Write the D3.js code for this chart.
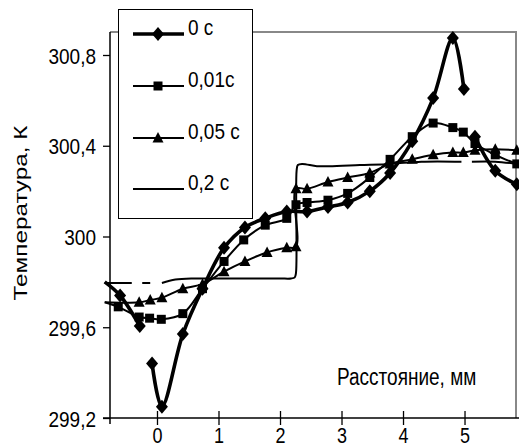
<!DOCTYPE html>
<html><head><meta charset="utf-8">
<script src="https://cdn.jsdelivr.net/npm/d3@7"></script>
<style>body{margin:0;background:#fff}svg{display:block}text{font-family:"Liberation Sans",Arial,sans-serif;fill:#000}</style>
</head><body>
<script>
// ---- data ----
const seriesNames = ["0 c", "0,01c", "0,05 c", "0,2 c"];
const dist0 = [-0.85,-0.60,-0.28,null,-0.08,0.08,0.42,0.74,1.09,1.43,1.76,2.11,2.44,2.78,3.10,3.46,3.79,4.15,4.49,4.81,4.99,null,5.17,5.50,5.85];
const temp0 = [299.80,299.74,299.605,null,299.44,299.25,299.57,299.77,299.95,300.04,300.08,300.11,300.11,300.13,300.15,300.20,300.28,300.42,300.61,300.875,300.65,null,300.44,300.29,300.23];
const dist01 = [-0.85,-0.63,-0.29,-0.12,0.07,0.42,0.74,1.09,1.41,1.76,2.11,2.26,2.44,2.78,3.10,3.46,3.79,4.15,4.49,4.81,4.98,5.17,5.50,5.85];
const temp01 = [299.71,299.69,299.645,299.64,299.635,299.66,299.77,299.89,299.985,300.05,300.08,300.14,300.15,300.16,300.19,300.26,300.34,300.44,300.50,300.48,300.46,300.41,300.36,300.32];
const dist05 = [-0.85,-0.29,-0.11,0.08,0.42,0.74,1.09,1.43,1.79,2.11,2.26,2.26,2.44,2.78,3.10,3.46,3.79,4.15,4.49,4.81,4.98,5.17,5.50,5.85];
const temp05 = [299.71,299.71,299.72,299.73,299.77,299.79,299.845,299.89,299.93,299.95,299.955,300.21,300.21,300.24,300.26,300.28,300.32,300.34,300.36,300.37,300.37,300.38,300.385,300.38];
const dist2 = [-0.85,-0.41,null,-0.24,-0.11,null,0.08,0.30,0.60,1.00,1.50,2.00,2.18,2.24,2.26,2.27,2.29,2.36,2.60,2.80,3.30,3.80,4.30,4.95,null,5.12,5.50,5.85];
const temp2 = [299.795,299.795,null,299.795,299.795,null,299.795,299.81,299.815,299.815,299.815,299.815,299.815,299.82,299.84,300.29,300.315,300.32,300.31,300.31,300.315,300.32,300.33,300.33,null,300.33,300.33,300.32];
const yTicks = [299.2, 299.6, 300, 300.4, 300.8];
const xTicks = [0, 1, 2, 3, 4, 5];
const xTitle = "Расстояние, мм";
const yTitle = "Температура, К";

// ---- setup ----
const W = 519, H = 448;
const svg = d3.select("body").append("svg").attr("width", W).attr("height", H);
const x = d3.scaleLinear().domain([-0.764, 5.837]).range([110, 516]);
const y = d3.scaleLinear().domain([299.2, 300.8]).range([418, 55]);
const pL = 110, pR = 516, pT = 32, pB = 418;
const SY = 1.18;

// frame
svg.append("path").attr("d", `M${pL},${pT}H${pR}V${pB}`)
  .attr("fill", "none").attr("stroke", "#888").attr("stroke-width", 2);

const fmt = v => String(Math.round(v * 10) / 10).replace(".", ",");

// y axis
const ya = svg.append("g").attr("transform", `translate(${pL},0)`)
  .call(d3.axisLeft(y).tickValues(yTicks).tickSize(7).tickFormat(fmt).tickSizeOuter(0));
ya.select(".domain").remove();
ya.selectAll(".tick line").attr("stroke", "#000").attr("stroke-width", 1.3);
ya.selectAll(".tick text").attr("x", null).attr("dy", null).attr("y", null)
  .style("font-size", "19px").attr("fill", "#000").attr("text-anchor", "end")
  .attr("transform", `translate(-14,0) scale(1,${SY})`).attr("dominant-baseline", "central");
svg.append("line").attr("x1", pL).attr("x2", pL).attr("y1", pT).attr("y2", pB + 6)
  .attr("stroke", "#000").attr("stroke-width", 1.5);

// x axis
const xa = svg.append("g").attr("transform", `translate(0,${pB})`)
  .call(d3.axisBottom(x).tickValues(xTicks).tickSize(7).tickFormat(d => d).tickSizeOuter(0));
xa.select(".domain").remove();
xa.selectAll(".tick line").attr("y1", -7).attr("y2", 7).attr("stroke", "#000").attr("stroke-width", 1.3);
xa.selectAll(".tick text").attr("y", null).attr("dy", null)
  .style("font-size", "18px").attr("fill", "#000")
  .attr("transform", `translate(0,25) scale(1,${SY})`);
svg.append("line").attr("x1", 103).attr("x2", W).attr("y1", pB).attr("y2", pB)
  .attr("stroke", "#000").attr("stroke-width", 1.5);

// titles
svg.append("text").attr("transform", `translate(337,385) scale(1,1.25)`)
  .style("font-size", "19px").text(xTitle);
svg.append("text").attr("transform", `translate(27,213) rotate(-90) scale(1.35,1)`)
  .attr("text-anchor", "middle").style("font-size", "18px").text(yTitle);

// marker shapes
const shapes = {
  diamond: (cx, cy) => `M${cx},${cy-7}L${cx+6},${cy}L${cx},${cy+7}L${cx-6},${cy}Z`,
  square: (cx, cy) => `M${cx-4.5},${cy-4.5}h9v9h-9Z`,
  triangle: (cx, cy) => `M${cx},${cy-6}L${cx+5.5},${cy+4.5}L${cx-5.5},${cy+4.5}Z`,
  none: null
};

const series = [
  { name: seriesNames[3], d: dist2, t: temp2, w: 2, shape: "none" },
  { name: seriesNames[2], d: dist05, t: temp05, w: 2, shape: "triangle" },
  { name: seriesNames[1], d: dist01, t: temp01, w: 2, shape: "square" },
  { name: seriesNames[0], d: dist0, t: temp0, w: 3.6, shape: "diamond" }
];

const line = d3.line().defined(p => p[1] != null)
  .x(p => x(p[0])).y(p => y(p[1])).curve(d3.curveCatmullRom.alpha(0.5));

series.forEach(s => {
  const pts = s.d.map((d, i) => [d, s.t[i]]);
  svg.append("path").attr("d", line(pts)).attr("fill", "none")
    .attr("stroke", "#000").attr("stroke-width", s.w).attr("stroke-linejoin", "round");
  if (s.shape !== "none") {
    svg.append("g").selectAll("path").data(pts.filter(p => p[1] != null && p[0] > -0.76))
      .join("path").attr("d", p => shapes[s.shape](x(p[0]), y(p[1]))).attr("fill", "#000");
  }
});

// legend
const lg = svg.append("g");
lg.append("rect").attr("x", 118.5).attr("y", 9.5).attr("width", 134).attr("height", 209)
  .attr("fill", "#fff").attr("stroke", "#000").attr("stroke-width", 1);
const legendY = [34, 86, 138, 189];
[series[3], series[2], series[1], series[0]].forEach((s, i) => {
  const ly = legendY[i];
  lg.append("line").attr("x1", 133).attr("x2", 184).attr("y1", ly).attr("y2", ly)
    .attr("stroke", "#000").attr("stroke-width", s.w);
  if (s.shape !== "none") lg.append("path").attr("d", shapes[s.shape](158, ly)).attr("fill", "#000");
  lg.append("text").attr("transform", `translate(188,${ly + 1}) scale(1,${SY})`)
    .style("font-size", "19px").text(s.name);
});
</script>
</body></html>
